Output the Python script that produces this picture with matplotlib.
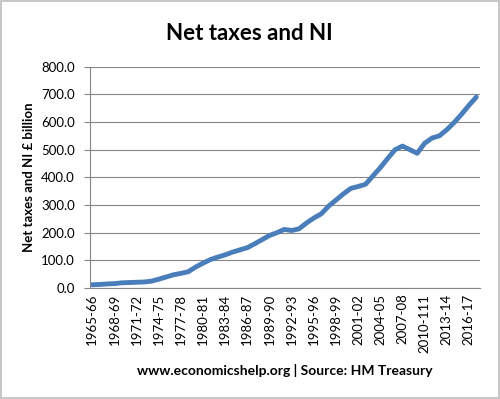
import matplotlib.pyplot as plt
import numpy as np

plt.rcParams['font.family'] = ['Lato', 'DejaVu Sans']

# financial years 1965-66 .. 2017-18
years = ['%d-%02d' % (y, (y + 1) % 100) for y in range(1965, 2018)]
tick_labels = ['1965-66', '1968-69', '1971-72', '1974-75', '1977-78', '1980-81',
               '1983-84', '1986-87', '1989-90', '1992-93', '1995-96', '1998-99',
               '2001-02', '2004-05', '2007-08', '2010-111', '2013-14', '2016-17']
net_taxes = [12, 13, 15, 16, 19, 20, 21, 22, 25, 32,
             40, 48, 53, 59, 76, 90, 103, 112, 120, 130,
             138, 146, 160, 175, 190, 200, 212, 208, 214, 235,
             253, 268, 296, 318, 340, 360, 367, 375, 405, 435,
             468, 500, 513, 500, 487, 523, 542, 550, 572, 598,
             628, 660, 690]

fig = plt.figure(figsize=(5, 3.99), dpi=100)
ax = fig.add_axes([0.18, 0.278, 0.78, 0.555])

x = np.arange(len(years))
ax.plot(x, net_taxes, color='#4a7ebb', lw=3.5, solid_capstyle='round')

ax.set_ylim(0, 800)
ax.set_yticks(np.arange(0, 801, 100))
ax.set_yticklabels(['%.1f' % v for v in np.arange(0, 801, 100)], fontsize=9.5)
ax.set_xlim(-0.3, len(years) - 0.5)
ax.set_xticks(np.arange(0, len(years), 3))
ax.set_xticklabels(tick_labels, rotation=90, fontsize=9.5)
ax.tick_params(axis='y', length=4, color='#868686', pad=7)
ax.tick_params(axis='x', length=0, pad=4)

ax.grid(axis='y', color='#868686', lw=0.8)
ax.set_axisbelow(True)
for s in ['top', 'right']:
    ax.spines[s].set_visible(False)
for s in ['left', 'bottom']:
    ax.spines[s].set_color('#868686')
    ax.spines[s].set_linewidth(0.8)

ax.set_ylabel('Net taxes and NI \u00a3 billion', fontsize=9.5, fontweight='bold', labelpad=4)
fig.text(0.498, 0.915, 'Net taxes and NI', ha='center', va='center',
         fontsize=16, fontweight='bold')
fig.text(0.57, 0.072, 'www.economicshelp.org | Source: HM Treasury', ha='center',
         va='center', fontsize=10, fontweight='bold')

# light frame round the picture
fig.patches.append(plt.Rectangle((0.002, 0.002), 0.996, 0.996, transform=fig.transFigure,
                                 fill=False, edgecolor='#bdbdbd', lw=1.2))

fig.savefig('out.png', dpi=100)
